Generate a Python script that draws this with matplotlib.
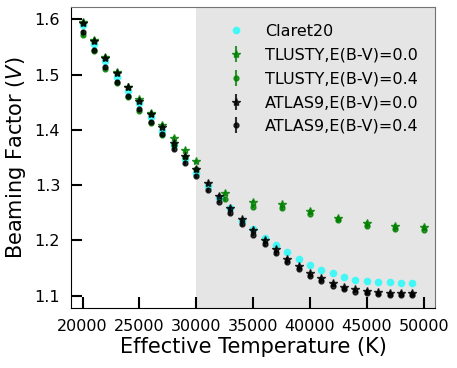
import numpy as np
import matplotlib
matplotlib.use('Agg')
import matplotlib.pyplot as plt

# temperature grids
teff_fine = np.arange(20000, 50000, 1000)          # 20000 ... 49000
teff_tlusty = np.array([20000, 21000, 22000, 23000, 24000, 25000, 26000, 27000, 28000, 29000,
                        30000, 32500, 35000, 37500, 40000, 42500, 45000, 47500, 50000])

claret20 = [1.590, 1.555, 1.524, 1.496, 1.471, 1.448, 1.423, 1.398, 1.372, 1.347,
            1.321, 1.298, 1.276, 1.258, 1.235, 1.220, 1.205, 1.191, 1.179, 1.167,
            1.156, 1.147, 1.140, 1.133, 1.129, 1.127, 1.125, 1.124, 1.123, 1.123]

tlusty_00 = [1.595, 1.562, 1.532, 1.504, 1.478, 1.455, 1.431, 1.409, 1.386, 1.363,
             1.343, 1.285, 1.270, 1.265, 1.253, 1.241, 1.232, 1.226, 1.2245]
tlusty_04 = [1.572, 1.542, 1.511, 1.484, 1.459, 1.435, 1.412, 1.391, 1.372, 1.350,
             1.330, 1.275, 1.261, 1.258, 1.248, 1.236, 1.226, 1.220, 1.219]

atlas_00 = [1.594, 1.561, 1.531, 1.503, 1.477, 1.453, 1.429, 1.406, 1.377, 1.353,
            1.3285, 1.303, 1.281, 1.258, 1.238, 1.2185, 1.200, 1.1835, 1.167, 1.153,
            1.140, 1.131, 1.122, 1.115, 1.111, 1.108, 1.106, 1.105, 1.105, 1.105]
atlas_04 = [1.577, 1.545, 1.514, 1.487, 1.461, 1.437, 1.414, 1.392, 1.365, 1.340,
            1.316, 1.291, 1.270, 1.249, 1.229, 1.210, 1.193, 1.177, 1.161, 1.148,
            1.135, 1.126, 1.118, 1.112, 1.107, 1.104, 1.102, 1.101, 1.101, 1.101]

err = 0.003

fig = plt.figure(figsize=(4.57, 3.68), dpi=100)
ax = fig.add_axes([0.156, 0.163, 0.796, 0.818])

ax.axvspan(30000, 51000, color='0.898', zorder=0, lw=0)

ax.plot(teff_fine, claret20, 'o', color='cyan', alpha=0.7, ms=5.5, mec='none', label='Claret20')
ax.errorbar(teff_tlusty, tlusty_00, yerr=err, fmt='*', color='green', alpha=0.8, ms=6,
            elinewidth=1.5, label='TLUSTY,E(B-V)=0.0')
ax.errorbar(teff_tlusty, tlusty_04, yerr=err, fmt='o', color='green', alpha=0.8, ms=3.5,
            elinewidth=1.5, label='TLUSTY,E(B-V)=0.4')
ax.errorbar(teff_fine, atlas_00, yerr=err, fmt='*', color='black', alpha=0.8, ms=6,
            elinewidth=1.5, label='ATLAS9,E(B-V)=0.0')
ax.errorbar(teff_fine, atlas_04, yerr=err, fmt='o', color='black', alpha=0.8, ms=3.5,
            elinewidth=1.5, label='ATLAS9,E(B-V)=0.4')

ax.set_xlim(19000, 51000)
ax.set_ylim(1.0774, 1.6225)
ax.set_xticks([20000, 25000, 30000, 35000, 40000, 45000, 50000])
ax.set_yticks([1.1, 1.2, 1.3, 1.4, 1.5, 1.6])
ax.tick_params(direction='in', length=8, width=1.5, labelsize=11.5, pad=8)

for side in ['top', 'right']:
    ax.spines[side].set_color('0.45')

ax.set_xlabel('Effective Temperature (K)', fontsize=15, labelpad=2)
ax.set_ylabel('Beaming Factor ($V$)', fontsize=15, labelpad=5)

ax.legend(loc='upper right', frameon=False, fontsize=11.5, handletextpad=0.8,
          borderaxespad=0.65, labelspacing=0.55)

fig.savefig('out.png', dpi=100)
